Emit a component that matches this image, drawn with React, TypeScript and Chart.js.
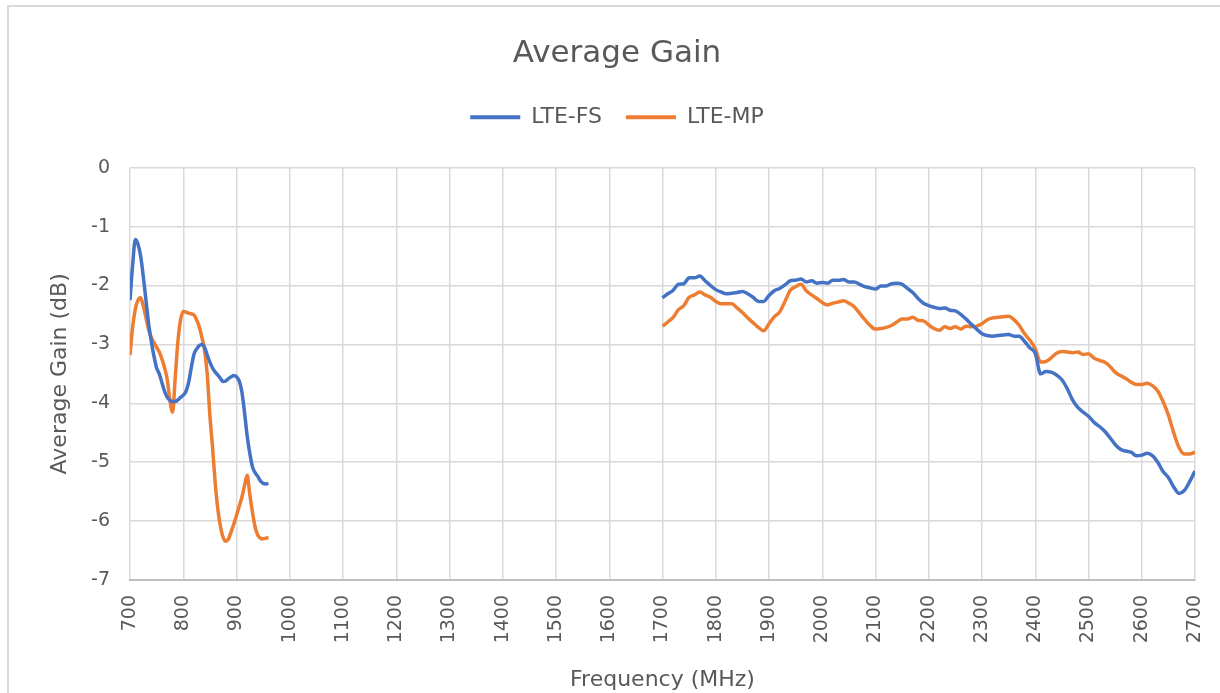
import React, { useEffect, useRef } from "react";
import { Chart, registerables } from "chart.js";

Chart.register(...registerables);

const chartTitle = "Average Gain";
const xAxisTitle = "Frequency (MHz)";
const yAxisTitle = "Average Gain (dB)";
const seriesNames = ["LTE-FS", "LTE-MP"];
const seriesColors = ["#4472C4", "#ED7D31"];

// Low band (MHz)
const freqLow = [
  700, 705, 710, 715, 720, 725, 730, 735, 740, 745,
  750, 755, 760, 765, 770, 775, 780, 785, 790, 795,
  800, 805, 810, 815, 820, 825, 830, 835, 840, 845,
  850, 855, 860, 865, 870, 875, 880, 885, 890, 895,
  900, 905, 910, 915, 920, 925, 930, 935, 940, 945,
  950, 955, 960,
];
const fsLow = [
  -2.25, -1.65, -1.22, -1.3, -1.5, -1.85, -2.25, -2.65, -2.95, -3.2,
  -3.4, -3.5, -3.65, -3.8, -3.9, -3.95, -3.97, -3.97, -3.94, -3.9,
  -3.86, -3.8, -3.65, -3.4, -3.17, -3.08, -3.02, -3.0, -3.05, -3.18,
  -3.3, -3.4, -3.47, -3.52, -3.58, -3.63, -3.62, -3.58, -3.55, -3.53,
  -3.55, -3.62, -3.8, -4.15, -4.55, -4.85, -5.08, -5.18, -5.24, -5.32,
  -5.36, -5.37, -5.36,
];
const mpLow = [
  -3.18, -2.7, -2.4, -2.25, -2.21, -2.35, -2.55, -2.75, -2.88, -2.97,
  -3.05, -3.13, -3.25, -3.4, -3.6, -3.95, -4.15, -3.55, -2.95, -2.58,
  -2.44, -2.45, -2.47, -2.48, -2.5, -2.58, -2.7, -2.88, -3.1, -3.5,
  -4.2, -4.75, -5.35, -5.8, -6.1, -6.28, -6.34, -6.3, -6.18, -6.05,
  -5.9, -5.75, -5.6, -5.4, -5.22, -5.55, -5.85, -6.1, -6.24, -6.29,
  -6.3, -6.29, -6.28,
];

// High band (MHz)
const freqHigh = [
  1700, 1710, 1720, 1730, 1740, 1750, 1760, 1770, 1780, 1790,
  1800, 1810, 1820, 1830, 1840, 1850, 1860, 1870, 1880, 1890,
  1900, 1910, 1920, 1930, 1940, 1950, 1960, 1970, 1980, 1990,
  2000, 2010, 2020, 2030, 2040, 2050, 2060, 2070, 2080, 2090,
  2100, 2110, 2120, 2130, 2140, 2150, 2160, 2170, 2180, 2190,
  2200, 2210, 2220, 2230, 2240, 2250, 2260, 2270, 2280, 2290,
  2300, 2310, 2320, 2330, 2340, 2350, 2360, 2370, 2380, 2390,
  2400, 2410, 2420, 2430, 2440, 2450, 2460, 2470, 2480, 2490,
  2500, 2510, 2520, 2530, 2540, 2550, 2560, 2570, 2580, 2590,
  2600, 2610, 2620, 2630, 2640, 2650, 2660, 2670, 2680, 2690,
  2700,
];
const fsHigh = [
  -2.21, -2.14, -2.08, -1.98, -1.97, -1.87, -1.87, -1.84, -1.92, -2.0,
  -2.07, -2.11, -2.14, -2.13, -2.12, -2.1, -2.14, -2.2, -2.27, -2.27,
  -2.17, -2.09, -2.05, -1.99, -1.92, -1.91, -1.89, -1.94, -1.92, -1.96,
  -1.95, -1.96, -1.91, -1.91, -1.9, -1.94, -1.94, -1.98, -2.02, -2.04,
  -2.06, -2.01, -2.01, -1.97, -1.96, -1.98, -2.05, -2.12, -2.22, -2.3,
  -2.34, -2.37, -2.39, -2.38, -2.42, -2.43, -2.49, -2.57, -2.66, -2.74,
  -2.82, -2.85, -2.86, -2.85, -2.84, -2.83, -2.86, -2.86, -2.95, -3.06,
  -3.15, -3.5, -3.46, -3.47, -3.52, -3.6, -3.75, -3.94, -4.07, -4.15,
  -4.22, -4.32, -4.39, -4.47, -4.58, -4.7, -4.78, -4.81, -4.83, -4.89,
  -4.88, -4.85, -4.89, -5.0, -5.16, -5.26, -5.42, -5.53, -5.48, -5.33,
  -5.15,
];
const mpHigh = [
  -2.69, -2.62, -2.54, -2.41, -2.34, -2.2, -2.16, -2.11, -2.16, -2.2,
  -2.27, -2.31, -2.31, -2.31, -2.38, -2.46, -2.55, -2.63, -2.71, -2.77,
  -2.65, -2.53, -2.45, -2.27, -2.08, -2.02, -1.98, -2.09, -2.16, -2.22,
  -2.29, -2.33, -2.3, -2.28, -2.26, -2.3, -2.36, -2.47, -2.58, -2.68,
  -2.74, -2.73, -2.71, -2.68, -2.62, -2.57, -2.57, -2.54, -2.59, -2.6,
  -2.67, -2.73, -2.76, -2.7, -2.73, -2.7, -2.74, -2.69, -2.7, -2.69,
  -2.65, -2.58, -2.55, -2.54, -2.53, -2.52, -2.58, -2.68, -2.82, -2.93,
  -3.07, -3.3, -3.29, -3.23, -3.15, -3.12, -3.13, -3.14, -3.13, -3.17,
  -3.16, -3.23, -3.27, -3.3, -3.37, -3.47, -3.53, -3.58, -3.64, -3.68,
  -3.68, -3.66, -3.7, -3.79, -3.97, -4.2, -4.5, -4.75, -4.86, -4.86,
  -4.83,
];

const xMin = 700;
const xMax = 2700;
const xStep = 100;
const yMin = -7;
const yMax = 0;
const yStep = 1;

const FONT = "'DejaVu Sans', sans-serif";
const TEXT = "#595959";
const GRID = "#d9d9d9";

function toPoints(fL: number[], vL: number[], fH: number[], vH: number[]) {
  const pts: { x: number; y: number | null }[] = [];
  fL.forEach((f, i) => pts.push({ x: f, y: vL[i] }));
  pts.push({ x: (fL[fL.length - 1] + fH[0]) / 2, y: null });
  fH.forEach((f, i) => pts.push({ x: f, y: vH[i] }));
  return pts;
}

export default function App() {
  const ref = useRef<HTMLCanvasElement | null>(null);

  useEffect(() => {
    if (!ref.current) return;
    const chart = new Chart(ref.current, {
      type: "line",
      data: {
        datasets: [
          {
            label: seriesNames[0],
            data: toPoints(freqLow, fsLow, freqHigh, fsHigh) as any,
            borderColor: seriesColors[0],
            backgroundColor: seriesColors[0],
            borderWidth: 3.5,
            pointRadius: 0,
            cubicInterpolationMode: "monotone",
            spanGaps: false,
            fill: false,
          },
          {
            label: seriesNames[1],
            data: toPoints(freqLow, mpLow, freqHigh, mpHigh) as any,
            borderColor: seriesColors[1],
            backgroundColor: seriesColors[1],
            borderWidth: 3.5,
            pointRadius: 0,
            cubicInterpolationMode: "monotone",
            spanGaps: false,
            fill: false,
          },
        ],
      },
      options: {
        responsive: false,
        animation: false,
        devicePixelRatio: 1,
        parsing: false as any,
        layout: { padding: { left: 39, right: 25, top: 0, bottom: 0 } },
        plugins: {
          title: {
            display: true,
            text: chartTitle,
            color: TEXT,
            font: { family: FONT, size: 31, weight: "normal" as any },
            padding: { top: 35, bottom: 10 },
          },
          subtitle: {
            display: true,
            text: " ",
            weight: 500,
            font: { size: 10, lineHeight: 1 },
            padding: { top: 19.5, bottom: 0 },
          } as any,
          legend: {
            display: true,
            position: "top",
            labels: {
              boxWidth: 50,
              boxHeight: 4,
              padding: 24,
              color: TEXT,
              font: { family: FONT, size: 22 },
              generateLabels: (c: any) =>
                (Chart.defaults.plugins.legend.labels.generateLabels as any)(c).map((l: any) => ({
                  ...l,
                  lineWidth: 0,
                  fillStyle: l.strokeStyle,
                })),
            },
          },
          tooltip: { enabled: false },
        },
        scales: {
          x: {
            type: "linear",
            min: xMin,
            max: xMax,
            ticks: {
              stepSize: xStep,
              autoSkip: false,
              maxRotation: 90,
              minRotation: 90,
              padding: 15,
              color: TEXT,
              font: { family: FONT, size: 19 },
              callback: (v: any) => String(v),
            },
            grid: { color: GRID, lineWidth: 1.5, drawTicks: false },
            border: { display: true, color: "#bfbfbf", width: 2 },
            title: {
              display: true,
              text: xAxisTitle,
              color: TEXT,
              font: { family: FONT, size: 22 },
              padding: { top: 9, bottom: 0 },
            },
            afterFit: (s: any) => {
              s.height = 113;
              s.paddingLeft = 0;
              s.paddingRight = 0;
            },
          },
          y: {
            type: "linear",
            min: yMin,
            max: yMax,
            ticks: {
              stepSize: yStep,
              padding: 20,
              color: TEXT,
              font: { family: FONT, size: 19 },
            },
            grid: { color: GRID, lineWidth: 1.5, drawTicks: false },
            border: { display: false },
            title: {
              display: true,
              text: yAxisTitle,
              color: TEXT,
              font: { family: FONT, size: 22 },
              padding: { top: 8, bottom: 0 },
            },
            afterFit: (s: any) => {
              s.width = 91;
              s.paddingTop = 0;
              s.paddingBottom = 0;
            },
          },
        },
      },
    });
    return () => chart.destroy();
  }, []);

  return (
    <div
      style={{
        position: "fixed",
        left: 0,
        top: 0,
        width: 1220,
        height: 693,
        overflow: "hidden",
        background: "#ffffff",
      }}
    >
      <div
        style={{
          position: "absolute",
          left: 7,
          top: 5,
          width: 1240,
          height: 720,
          border: "2px solid #d9d9d9",
          boxSizing: "border-box",
        }}
      />
      <canvas
        ref={ref}
        width={1220}
        height={693}
        style={{ position: "absolute", left: 0, top: 0, width: 1220, height: 693 }}
      />
    </div>
  );
}
